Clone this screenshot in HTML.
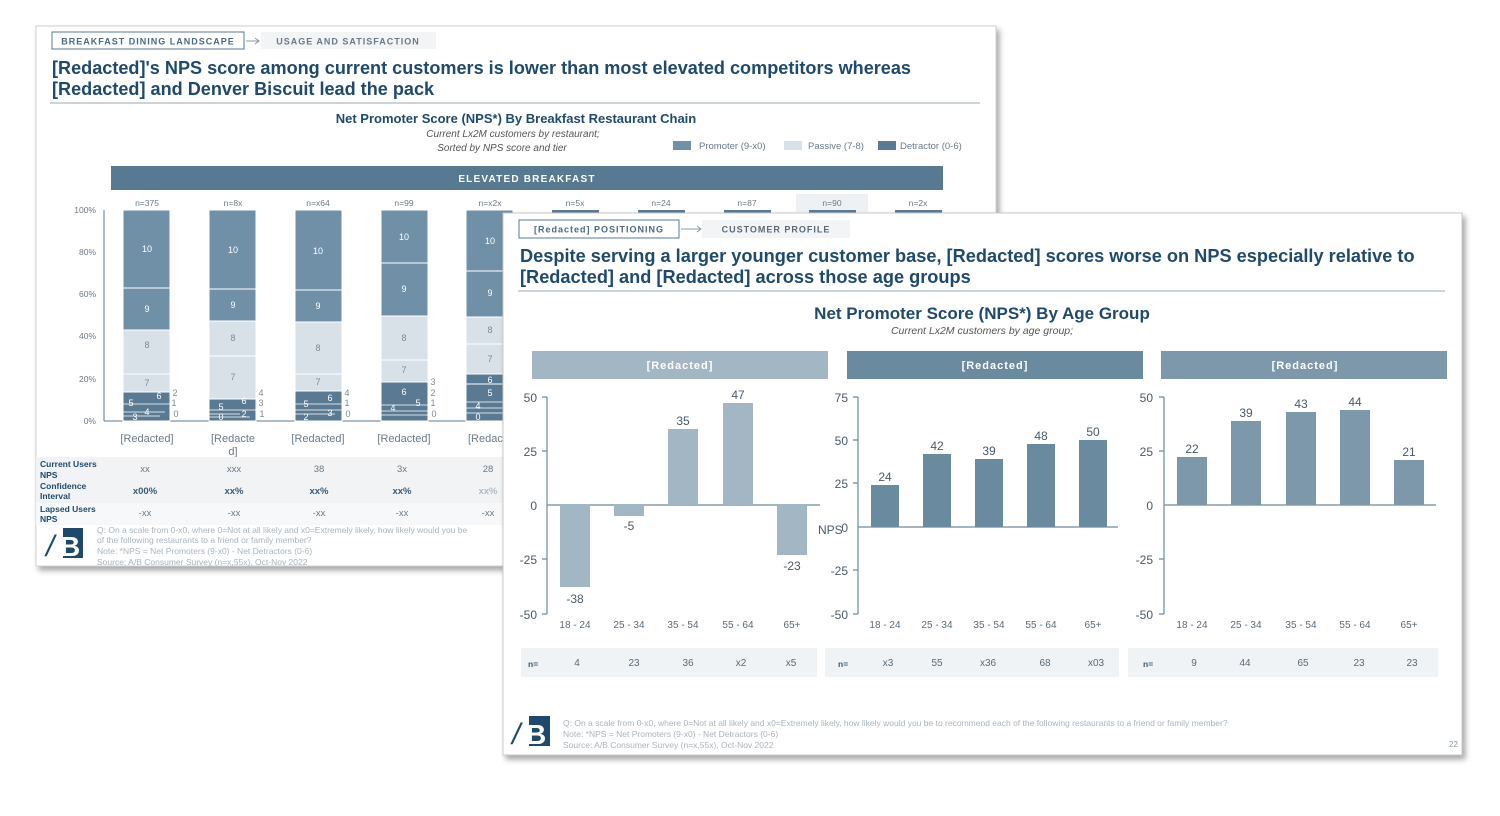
<!DOCTYPE html>
<html><head><meta charset="utf-8"><style>
html,body{margin:0;padding:0;background:#fff;}
svg{display:block;font-family:"Liberation Sans",sans-serif;}
</style></head><body>
<svg width="1500" height="816" viewBox="0 0 1500 816" xmlns="http://www.w3.org/2000/svg">
<defs>
<filter id="sh" x="-5%" y="-5%" width="110%" height="115%"><feDropShadow dx="3" dy="4" stdDeviation="3" flood-color="#000" flood-opacity="0.35"/></filter>
</defs>
<!-- BACK SLIDE -->
<rect x="36" y="26" width="960" height="540" fill="#fff" stroke="#d0d0d0" filter="url(#sh)"/>
<rect x="52" y="32" width="192" height="17" fill="#fff" stroke="#5a7a94"/>
<text x="148" y="44.5" font-size="9" font-weight="bold" fill="#4a6a84" text-anchor="middle" letter-spacing="1">BREAKFAST DINING LANDSCAPE</text>
<path d="M246 41 H258 M255 38 L259 41 L255 44" stroke="#8a9aa8" fill="none"/>
<rect x="261" y="32" width="175" height="17" fill="#f2f4f6"/>
<text x="348" y="44.5" font-size="9" font-weight="bold" fill="#6a7a88" text-anchor="middle" letter-spacing="1">USAGE AND SATISFACTION</text>
<text x="52" y="74" font-size="18.1" font-weight="bold" fill="#1e4a6e">[Redacted]'s NPS score among current customers is lower than most elevated competitors whereas</text>
<text x="52" y="95" font-size="18.1" font-weight="bold" fill="#1e4a6e">[Redacted] and Denver Biscuit lead the pack</text>
<line x1="50" y1="103" x2="980" y2="103" stroke="#9aa8b4"/>
<text x="516" y="123" font-size="13" font-weight="bold" fill="#1e4a6e" text-anchor="middle">Net Promoter Score (NPS*) By Breakfast Restaurant Chain</text>
<text x="513" y="137" font-size="10" font-style="italic" fill="#555" text-anchor="middle">Current Lx2M customers by restaurant;</text>
<text x="502" y="151" font-size="10" font-style="italic" fill="#555" text-anchor="middle">Sorted by NPS score and tier</text>
<rect x="673" y="141" width="18" height="9" fill="#7090a8"/><text x="699" y="149" font-size="9.5" fill="#6a7a88">Promoter (9-x0)</text>
<rect x="784" y="141" width="18" height="9" fill="#d9e1e8"/><text x="808" y="149" font-size="9.5" fill="#6a7a88">Passive (7-8)</text>
<rect x="878" y="141" width="18" height="9" fill="#5a7a94"/><text x="900" y="149" font-size="9.5" fill="#6a7a88">Detractor (0-6)</text>
<rect x="111" y="166" width="832" height="24" fill="#577a92"/>
<text x="527" y="182" font-size="10" font-weight="bold" fill="#fff" text-anchor="middle" letter-spacing="1.2">ELEVATED BREAKFAST</text>
<rect x="796" y="194" width="72" height="18" fill="#eef1f3"/>
<g font-size="8.5" fill="#6a7a88" text-anchor="middle">
<text x="147" y="206">n=375</text><text x="233" y="206">n=8x</text><text x="318" y="206">n=x64</text><text x="404" y="206">n=99</text><text x="490" y="206">n=x2x</text><text x="575" y="206">n=5x</text><text x="661" y="206">n=24</text><text x="747" y="206">n=87</text><text x="832" y="206">n=90</text><text x="918" y="206">n=2x</text>
</g>
<g fill="#5a7a94"><rect x="552" y="210" width="47" height="3"/><rect x="638" y="210" width="47" height="3"/><rect x="724" y="210" width="47" height="3"/><rect x="809" y="210" width="47" height="3"/><rect x="895" y="210" width="47" height="3"/></g>
<g font-size="8.5" fill="#6a7a88" text-anchor="end">
<text x="96" y="213">100%</text><text x="96" y="255">80%</text><text x="96" y="297">60%</text><text x="96" y="339">40%</text><text x="96" y="382">20%</text><text x="96" y="424">0%</text>
</g>
<line x1="104" y1="210" x2="104" y2="421" stroke="#5a7a94"/>
<line x1="104" y1="421" x2="500" y2="421" stroke="#5a7a94"/>
<g stroke="#fff" stroke-width="1">
<rect x="123" y="210" width="47" height="78" fill="#7090a8"/><rect x="123" y="288" width="47" height="42" fill="#7090a8"/><rect x="123" y="330" width="47" height="44" fill="#d9e1e8"/><rect x="123" y="374" width="47" height="18" fill="#d9e1e8"/><rect x="123" y="392" width="47" height="29" fill="#5a7a94"/>
<rect x="209" y="210" width="47" height="79" fill="#7090a8"/><rect x="209" y="289" width="47" height="32" fill="#7090a8"/><rect x="209" y="321" width="47" height="35" fill="#d9e1e8"/><rect x="209" y="356" width="47" height="43" fill="#d9e1e8"/><rect x="209" y="399" width="47" height="22" fill="#5a7a94"/>
<rect x="295" y="210" width="47" height="80" fill="#7090a8"/><rect x="295" y="290" width="47" height="32" fill="#7090a8"/><rect x="295" y="322" width="47" height="52" fill="#d9e1e8"/><rect x="295" y="374" width="47" height="17" fill="#d9e1e8"/><rect x="295" y="391" width="47" height="30" fill="#5a7a94"/>
<rect x="381" y="210" width="47" height="53" fill="#7090a8"/><rect x="381" y="263" width="47" height="53" fill="#7090a8"/><rect x="381" y="316" width="47" height="44" fill="#d9e1e8"/><rect x="381" y="360" width="47" height="22" fill="#d9e1e8"/><rect x="381" y="382" width="47" height="39" fill="#5a7a94"/>
<rect x="466" y="210" width="47" height="61" fill="#7090a8"/><rect x="466" y="271" width="47" height="46" fill="#7090a8"/><rect x="466" y="317" width="47" height="27" fill="#d9e1e8"/><rect x="466" y="344" width="47" height="30" fill="#d9e1e8"/><rect x="466" y="374" width="47" height="10" fill="#5a7a94"/><rect x="466" y="384" width="47" height="37" fill="#5a7a94"/>
</g>
<g stroke="#fff" stroke-width="0.8">
<path d="M123 404H170M123 412H165M123 416H160M209 410H256M209 414H240M209 417H250M295 404H342M295 410H342M295 414H335M381 405H428M381 411H428M381 415H428M466 402H513M466 408H513M466 413H513"/>
</g>
<g font-size="9" fill="#fff" text-anchor="middle">
<text x="147" y="252">10</text><text x="147" y="312">9</text><text x="233" y="253">10</text><text x="233" y="308">9</text><text x="318" y="254">10</text><text x="318" y="309">9</text><text x="404" y="240">10</text><text x="404" y="292">9</text><text x="490" y="244">10</text><text x="490" y="296">9</text>
<text x="131" y="406">5</text><text x="159" y="399">6</text><text x="147" y="415">4</text><text x="135" y="420">3</text>
<text x="221" y="410">5</text><text x="244" y="404">6</text><text x="221" y="420">0</text><text x="244" y="417">2</text>
<text x="306" y="407">5</text><text x="330" y="401">6</text><text x="306" y="420">2</text><text x="330" y="416">3</text>
<text x="404" y="395">6</text><text x="393" y="411">4</text><text x="418" y="406">5</text>
<text x="490" y="383">6</text><text x="490" y="396">5</text><text x="478" y="409">4</text><text x="478" y="420">0</text>
</g>
<g font-size="9" fill="#7a8a98" text-anchor="middle">
<text x="147" y="348">8</text><text x="147" y="386">7</text><text x="233" y="341">8</text><text x="233" y="380">7</text><text x="318" y="351">8</text><text x="318" y="385">7</text><text x="404" y="341">8</text><text x="404" y="373">7</text><text x="490" y="333">8</text><text x="490" y="362">7</text>
<text x="175" y="396">2</text><text x="174" y="406">1</text><text x="176" y="417">0</text><text x="261" y="396">4</text><text x="261" y="406">3</text><text x="262" y="417">1</text><text x="347" y="396">4</text><text x="347" y="406">1</text><text x="348" y="417">0</text><text x="433" y="385">3</text><text x="433" y="396">2</text><text x="433" y="406">1</text><text x="434" y="417">0</text>
</g>
<g font-size="11" fill="#6b7b88" text-anchor="middle">
<text x="147" y="442">[Redacted]</text><text x="233" y="442">[Redacte</text><text x="233" y="455">d]</text><text x="318" y="442">[Redacted]</text><text x="404" y="442">[Redacted]</text><text x="490" y="442">[Redacte</text>
</g>
<rect x="36" y="457" width="468" height="46" fill="#f1f3f5"/>
<rect x="36" y="503" width="468" height="22" fill="#f7f8f9"/>
<g font-size="8.5" font-weight="bold" fill="#1e4a6e">
<text x="40" y="467">Current Users</text><text x="40" y="478">NPS</text><text x="40" y="489">Confidence</text><text x="40" y="499">Interval</text><text x="40" y="512">Lapsed Users</text><text x="40" y="522">NPS</text>
</g>
<g font-size="9.5" fill="#6a7a88" text-anchor="middle">
<text x="145" y="472">xx</text><text x="234" y="472">xxx</text><text x="319" y="472">38</text><text x="402" y="472">3x</text><text x="488" y="472">28</text>
<text x="145" y="516">-xx</text><text x="234" y="516">-xx</text><text x="319" y="516">-xx</text><text x="402" y="516">-xx</text><text x="488" y="516">-xx</text>
</g>
<g font-size="9.5" font-weight="bold" fill="#3a5a74" text-anchor="middle">
<text x="145" y="494">x00%</text><text x="234" y="494">xx%</text><text x="319" y="494">xx%</text><text x="402" y="494">xx%</text><text x="488" y="494" fill="#b0bcc6">xx%</text>
</g>
<rect x="63" y="528" width="20" height="30" fill="#1d4a6c"/>
<text x="46" y="556" font-size="30" fill="#1d4a6c" font-style="italic">/</text><text x="60" y="556" font-size="28" font-weight="bold" fill="#fff">B</text>
<g font-size="8.5" fill="#a8b4be">
<text x="97" y="533">Q: On a scale from 0-x0, where 0=Not at all likely and x0=Extremely likely, how likely would you be</text>
<text x="97" y="543">of the following restaurants to a friend or family member?</text>
<text x="97" y="554">Note: *NPS = Net Promoters (9-x0) - Net Detractors (0-6)</text>
<text x="97" y="565">Source: A/B Consumer Survey (n=x,55x), Oct-Nov 2022</text>
</g>

<!-- FRONT SLIDE -->
<rect x="503" y="213" width="959" height="542" fill="#fff" stroke="#c8c8c8" filter="url(#sh)"/>
<rect x="519" y="220" width="160" height="18" fill="#fff" stroke="#5a7a94"/>
<text x="599" y="232.5" font-size="9" font-weight="bold" fill="#4a6a84" text-anchor="middle" letter-spacing="1">[Redacted] POSITIONING</text>
<path d="M681 229 H700 M697 226 L701 229 L697 232" stroke="#8a9aa8" fill="none"/>
<rect x="702" y="220" width="148" height="18" fill="#f2f4f6"/>
<text x="776" y="232.5" font-size="9" font-weight="bold" fill="#5a6a78" text-anchor="middle" letter-spacing="1">CUSTOMER PROFILE</text>
<text x="520" y="262" font-size="18.2" font-weight="bold" fill="#1e4a6e">Despite serving a larger younger customer base, [Redacted] scores worse on NPS especially relative to</text>
<text x="520" y="283" font-size="18.2" font-weight="bold" fill="#1e4a6e">[Redacted] and [Redacted] across those age groups</text>
<line x1="518" y1="291" x2="1445" y2="291" stroke="#9aa8b4"/>
<text x="982" y="319" font-size="17" font-weight="bold" fill="#1e4a6e" text-anchor="middle">Net Promoter Score (NPS*) By Age Group</text>
<text x="982" y="334" font-size="10.5" font-style="italic" fill="#555" text-anchor="middle">Current Lx2M customers by age group;</text>

<rect x="532" y="351" width="296" height="28" fill="#a3b6c3"/>
<rect x="847" y="351" width="296" height="28" fill="#6a8aa0"/>
<rect x="1161" y="351" width="286" height="28" fill="#7d98ab"/>
<g font-size="11" font-weight="bold" fill="#fff" text-anchor="middle" letter-spacing="1">
<text x="680" y="369">[Redacted]</text><text x="995" y="369">[Redacted]</text><text x="1305" y="369">[Redacted]</text>
</g>
<g font-size="12" fill="#4a5a68" text-anchor="end">
<text x="537" y="402">50</text><text x="537" y="456">25</text><text x="537" y="510">0</text><text x="537" y="564">-25</text><text x="537" y="619">-50</text>
<text x="848" y="402">75</text><text x="848" y="445">50</text><text x="848" y="488">25</text><text x="848" y="532">0</text><text x="848" y="575">-25</text><text x="848" y="619">-50</text>
<text x="1153" y="402">50</text><text x="1153" y="456">25</text><text x="1153" y="510">0</text><text x="1153" y="564">-25</text><text x="1153" y="619">-50</text>
</g>
<text x="818" y="534" font-size="12" fill="#4a5a68">NPS</text>
<g stroke="#6a8aa0" stroke-width="1.2">
<line x1="547" y1="397" x2="547" y2="614"/><path d="M542 397H547M542 451H547M542 559H547M542 614H547"/>
<line x1="547" y1="505" x2="820" y2="505"/>
<line x1="858" y1="397" x2="858" y2="614"/><path d="M853 397H858M853 440H858M853 483H858M853 570H858M853 614H858"/>
<line x1="858" y1="527" x2="1118" y2="527"/>
<line x1="1164" y1="397" x2="1164" y2="614"/><path d="M1159 397H1164M1159 451H1164M1159 559H1164M1159 614H1164"/>
<line x1="1164" y1="505" x2="1436" y2="505"/>
</g>
<g fill="#a3b6c3">
<rect x="560" y="505" width="30" height="82"/><rect x="614" y="505" width="30" height="11"/><rect x="668" y="429" width="30" height="76"/><rect x="723" y="403" width="30" height="102"/><rect x="777" y="505" width="30" height="50"/>
</g>
<g font-size="12" fill="#4a5a68" text-anchor="middle">
<text x="575" y="603">-38</text><text x="629" y="530">-5</text><text x="683" y="425">35</text><text x="738" y="399">47</text><text x="792" y="570">-23</text>
</g>
<g fill="#6a8aa0">
<rect x="871" y="485" width="28" height="42"/><rect x="923" y="454" width="28" height="73"/><rect x="975" y="459" width="28" height="68"/><rect x="1027" y="444" width="28" height="83"/><rect x="1079" y="440" width="28" height="87"/>
</g>
<g font-size="12" fill="#4a5a68" text-anchor="middle">
<text x="885" y="481">24</text><text x="937" y="450">42</text><text x="989" y="455">39</text><text x="1041" y="440">48</text><text x="1093" y="436">50</text>
</g>
<g fill="#7d98ab">
<rect x="1177" y="457" width="30" height="48"/><rect x="1231" y="421" width="30" height="84"/><rect x="1286" y="412" width="30" height="93"/><rect x="1340" y="410" width="30" height="95"/><rect x="1394" y="460" width="30" height="45"/>
</g>
<g font-size="12" fill="#4a5a68" text-anchor="middle">
<text x="1192" y="453">22</text><text x="1246" y="417">39</text><text x="1301" y="408">43</text><text x="1355" y="406">44</text><text x="1409" y="456">21</text>
</g>
<g font-size="10" fill="#5a6a78" text-anchor="middle">
<text x="575" y="628">18 - 24</text><text x="629" y="628">25 - 34</text><text x="683" y="628">35 - 54</text><text x="738" y="628">55 - 64</text><text x="792" y="628">65+</text>
<text x="885" y="628">18 - 24</text><text x="937" y="628">25 - 34</text><text x="989" y="628">35 - 54</text><text x="1041" y="628">55 - 64</text><text x="1093" y="628">65+</text>
<text x="1192" y="628">18 - 24</text><text x="1246" y="628">25 - 34</text><text x="1301" y="628">35 - 54</text><text x="1355" y="628">55 - 64</text><text x="1409" y="628">65+</text>
</g>
<rect x="521" y="648" width="296" height="29" fill="#f0f3f5"/>
<rect x="825" y="648" width="294" height="29" fill="#f0f3f5"/>
<rect x="1128" y="648" width="310" height="29" fill="#f0f3f5"/>
<g font-size="8.5" font-weight="bold" fill="#3a5a74"><text x="528" y="667">n=</text><text x="838" y="667">n=</text><text x="1143" y="667">n=</text></g>
<g font-size="10" fill="#5a6a78" text-anchor="middle">
<text x="577" y="666">4</text><text x="634" y="666">23</text><text x="688" y="666">36</text><text x="741" y="666">x2</text><text x="791" y="666">x5</text>
<text x="888" y="666">x3</text><text x="937" y="666">55</text><text x="988" y="666">x36</text><text x="1045" y="666">68</text><text x="1096" y="666">x03</text>
<text x="1194" y="666">9</text><text x="1245" y="666">44</text><text x="1303" y="666">65</text><text x="1359" y="666">23</text><text x="1412" y="666">23</text>
</g>
<rect x="529" y="716" width="21" height="30" fill="#1d4a6c"/>
<text x="512" y="744" font-size="30" fill="#1d4a6c" font-style="italic">/</text><text x="526" y="744" font-size="28" font-weight="bold" fill="#fff">B</text>
<g font-size="8.5" fill="#a8b4be">
<text x="563" y="726">Q: On a scale from 0-x0, where 0=Not at all likely and x0=Extremely likely, how likely would you be to recommend each of the following restaurants to a friend or family member?</text>
<text x="563" y="737">Note: *NPS = Net Promoters (9-x0) - Net Detractors (0-6)</text>
<text x="563" y="748">Source: A/B Consumer Survey (n=x,55x), Oct-Nov 2022</text>
</g>
<text x="1449" y="747" font-size="8" fill="#8a98a4">22</text>
</svg>
</body></html>
